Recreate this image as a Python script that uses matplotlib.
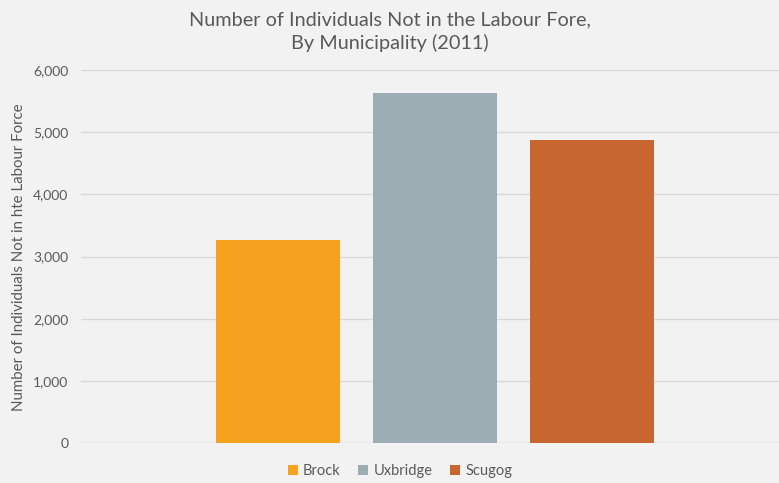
import matplotlib.pyplot as plt
import numpy as np

# Labour force data by municipality, 2011
municipalities = ['Brock', 'Uxbridge', 'Scugog']
not_in_labour_force = [3265, 5635, 4875]
colors = ['#F5A31F', '#9CAEB4', '#C7672F']

yticks = [0, 1000, 2000, 3000, 4000, 5000, 6000]

plt.rcParams['font.family'] = ['Lato', 'DejaVu Sans']
text_color = '#595959'
bg = '#F2F2F2'

fig = plt.figure(figsize=(7.79, 4.83), dpi=100, facecolor=bg)
ax = fig.add_axes([81 / 779, 40 / 483, 698 / 779, 373 / 483], facecolor=bg)

width = 1.0
pitch = 1.266
offsets = (np.arange(len(municipalities)) - 1) * pitch
for off, name, val, c in zip(offsets, municipalities, not_in_labour_force, colors):
    ax.bar(off, val, width=width, color=c, label=name, zorder=3)

ax.set_xlim(-2.855, 2.774)
ax.set_ylim(0, 6000)
ax.set_yticks(yticks)
ax.set_yticklabels([f'{v:,}' for v in yticks], color=text_color, fontsize=10)
ax.set_xticks([])
ax.tick_params(axis='y', length=0, pad=9)
ax.grid(axis='y', color='#D9D9D9', linewidth=1, zorder=0)
for s in ax.spines.values():
    s.set_visible(False)
ax.axhline(0, color='#D9D9D9', linewidth=1, zorder=1)

ax.set_ylabel('Number of Individuals Not in hte Labour Force', color=text_color, fontsize=10.8)
ax.yaxis.set_label_coords(-0.079, 0.497)

fig.text(0.5, 1 - 11 / 483, 'Number of Individuals Not in the Labour Fore,\nBy Municipality (2011)',
         ha='center', va='top', color=text_color, fontsize=14.3, linespacing=1.42)

leg = fig.legend(loc='center', bbox_to_anchor=(400 / 779, 1 - 471 / 483), ncol=3, frameon=False,
                 fontsize=10.5, handlelength=0.7, handleheight=0.7, handletextpad=0.35, columnspacing=1.2)
for t in leg.get_texts():
    t.set_color(text_color)

fig.savefig('out.png', dpi=100, facecolor=bg)
